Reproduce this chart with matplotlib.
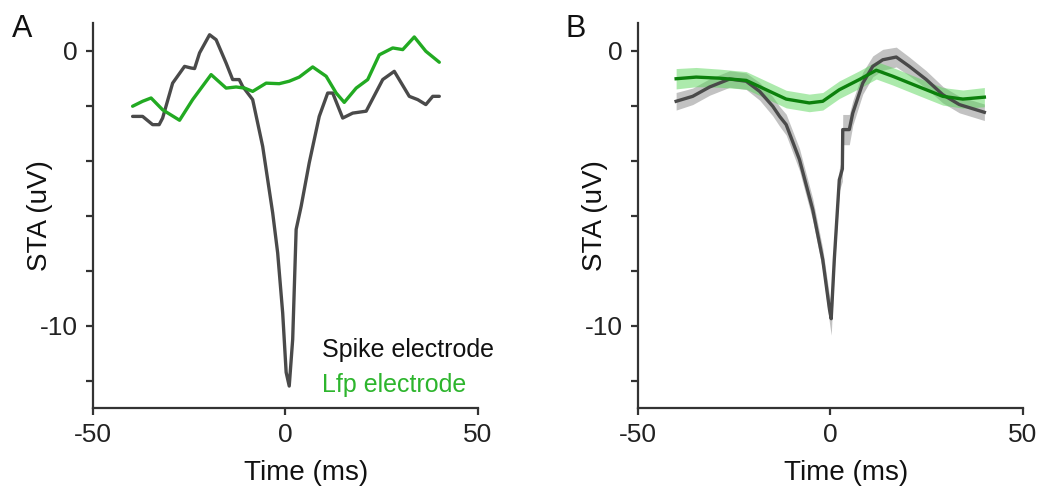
import numpy as np
import matplotlib.pyplot as plt

plt.rcParams['font.family'] = ['Liberation Sans', 'DejaVu Sans']
plt.rcParams['axes.unicode_minus'] = False

# Panel A: single-trial STA traces
spike_a_t = [-39.7, -37.1, -34.5, -32.8, -31.9, -29.3, -26.2, -24.5, -23.6, -22.3, -19.7, -18.0,
             -15.4, -13.7, -12.0, -11.1, -8.5, -5.9, -3.3, -2.0, -0.7, 0.2, 1.0, 1.9, 2.8, 4.1,
             6.2, 8.8, 11.0, 12.3, 14.9, 17.5, 21.0, 25.3, 28.3, 32.2, 34.4, 36.5, 38.3, 40.0]
spike_a_v = [-2.39, -2.39, -2.69, -2.69, -2.45, -1.18, -0.57, -0.63, -0.65, -0.08, 0.58, 0.40,
             -0.45, -1.05, -1.05, -1.3, -1.78, -3.48, -5.9, -7.36, -9.54, -11.7, -12.2, -10.5, -6.5, -5.66,
             -4.08, -2.39, -1.54, -1.54, -2.45, -2.27, -2.2, -1.05, -0.75, -1.66, -1.78, -1.96, -1.66, -1.66]

lfp_a_t = [-39.7, -37.1, -34.9, -31.9, -27.5, -24.1, -19.3, -15.4, -12.8, -10.6, -8.5, -5.0,
           -1.6, 1.0, 3.6, 7.1, 10.6, 13.2, 15.3, 18.4, 21.4, 24.4, 27.9, 30.5, 33.5, 36.5, 40.0]
lfp_a_v = [-2.02, -1.84, -1.72, -2.15, -2.53, -1.78, -0.87, -1.36, -1.32, -1.36, -1.48, -1.18,
           -1.2, -1.11, -0.96, -0.59, -0.93, -1.54, -1.88, -1.36, -1.05, -0.15, 0.1, 0.04, 0.5, -0.02, -0.42]

# Panel B: averaged STA with error bands
spike_b_t = [-40.1, -35.8, -31.4, -26.2, -21.9, -18.4, -15.0, -13.2, -11.5, -8.05, -4.6, -2.0,
             -0.26, 0.2, 1.0, 2.3, 3.1, 3.2, 4.9, 5.8, 8.4, 11.0, 13.6, 17.1, 20.5, 24.9,
             29.2, 33.5, 40.0]
spike_b_v = [-1.84, -1.66, -1.32, -1.03, -1.11, -1.48, -2.02, -2.39, -2.69, -3.96, -5.78, -7.6,
             -9.4, -9.75, -7.6, -4.7, -4.3, -2.87, -2.87, -2.27, -1.18, -0.57, -0.33, -0.23, -0.57, -1.05,
             -1.6, -1.96, -2.24]
spike_b_err = [0.32, 0.3, 0.3, 0.3, 0.3, 0.32, 0.35, 0.36, 0.38, 0.4, 0.4, 0.4,
               0.5, 0.6, 0.4, 0.4, 0.45, 0.55, 0.55, 0.45, 0.4, 0.38, 0.38, 0.36, 0.34, 0.32,
               0.3, 0.3, 0.3]

lfp_b_t = [-40.1, -34.9, -28.8, -21.9, -16.7, -11.5, -5.5, -2.0, 2.3, 7.5, 11.9, 16.2,
           23.1, 29.2, 34.4, 40.0]
lfp_b_v = [-1.02, -0.96, -1.0, -1.08, -1.42, -1.76, -1.9, -1.84, -1.42, -1.05, -0.71, -0.93,
           -1.32, -1.66, -1.76, -1.69]
lfp_b_err = [0.37, 0.35, 0.33, 0.32, 0.32, 0.32, 0.32, 0.32, 0.32, 0.32, 0.32, 0.32,
             0.32, 0.32, 0.33, 0.35]

gray = '#4a4a4a'
green_a = '#22aa22'
green_b = '#0c800c'

fig = plt.figure(figsize=(10.4, 4.94), dpi=100)
ax_a = fig.add_axes([0.0894, 0.174, 0.370, 0.779])
ax_b = fig.add_axes([0.6135, 0.174, 0.370, 0.779])

ax_a.plot(spike_a_t, spike_a_v, color=gray, lw=2.4, solid_joinstyle='round', solid_capstyle='round')
ax_a.plot(lfp_a_t, lfp_a_v, color=green_a, lw=2.4, solid_joinstyle='round', solid_capstyle='round')

sb_v = np.array(spike_b_v)
sb_e = np.array(spike_b_err)
lb_v = np.array(lfp_b_v)
lb_e = np.array(lfp_b_err)
ax_b.fill_between(spike_b_t, sb_v - sb_e, sb_v + sb_e, color='#a8a8a8', alpha=0.7, lw=0)
ax_b.fill_between(lfp_b_t, lb_v - lb_e, lb_v + lb_e, color='#5ad65a', alpha=0.5, lw=0)
ax_b.plot(spike_b_t, spike_b_v, color=gray, lw=2.4, solid_joinstyle='round')
ax_b.plot(lfp_b_t, lfp_b_v, color=green_b, lw=2.4, solid_joinstyle='round')

for ax in (ax_a, ax_b):
    ax.set_xlim(-50, 50)
    ax.set_ylim(-13, 1)
    ax.set_xticks([-50, 0, 50])
    ax.set_yticks(np.arange(-12, 1, 2))
    ax.set_yticklabels(['', '-10', '', '', '', '', '0'])
    for s in ('top', 'right'):
        ax.spines[s].set_visible(False)
    for s in ('left', 'bottom'):
        ax.spines[s].set_color('#333333')
        ax.spines[s].set_linewidth(1.6)
    ax.tick_params(direction='out', length=5, width=1.6, color='#333333',
                   labelsize=19, labelcolor='#222222', pad=6)
    ax.set_xlabel('Time (ms)', fontsize=20, color='#111111')
    ax.set_ylabel('STA (uV)', fontsize=20, color='#111111')

# label positions as in the original figure
ax_a.xaxis.set_label_coords(0.555, -0.135)
ax_b.xaxis.set_label_coords(0.54, -0.135)
ax_a.yaxis.set_label_coords(-0.104, 0.5)
ax_b.yaxis.set_label_coords(-0.078, 0.5)

ax_a.text(0.595, 0.132, 'Spike electrode', transform=ax_a.transAxes, fontsize=18,
          color='#111111', va='baseline')
ax_a.text(0.595, 0.042, 'Lfp electrode', transform=ax_a.transAxes, fontsize=18,
          color='#2db52d', va='baseline')

fig.text(0.011, 0.925, 'A', fontsize=22, color='#111111')
fig.text(0.544, 0.925, 'B', fontsize=22, color='#111111')

fig.savefig('out.png', dpi=100)
